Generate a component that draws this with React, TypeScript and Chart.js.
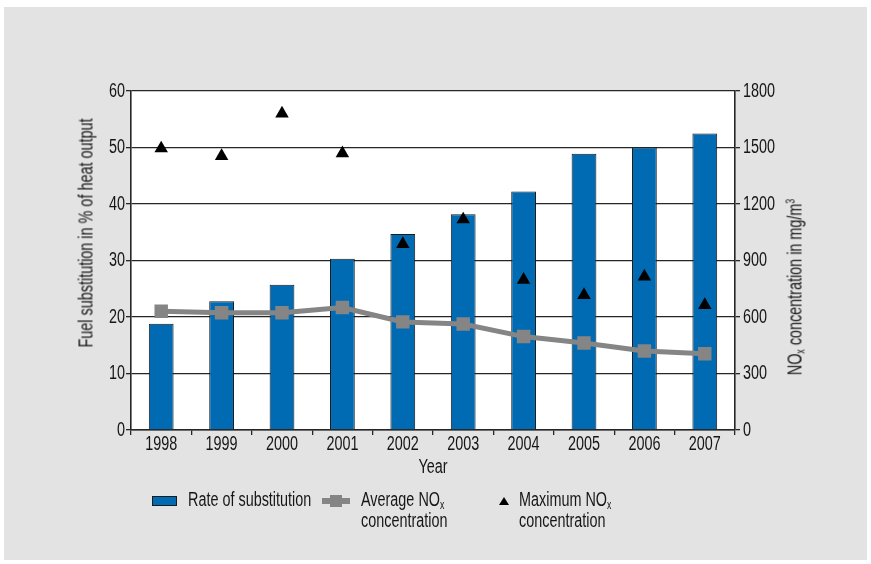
import React, { useEffect, useRef } from "react";
import { Chart, registerables } from "chart.js";
Chart.register(...registerables);

const years = ["1998", "1999", "2000", "2001", "2002", "2003", "2004", "2005", "2006", "2007"];
const substitution = [18.8, 22.8, 25.7, 30.3, 34.7, 38.2, 42.2, 48.9, 50.0, 52.5];
const avgNOx = [631, 623, 623, 650, 574, 563, 496, 462, 419, 405];
const maxNOx = [1495, 1454, 1680, 1469, 987, 1118, 797, 716, 815, 663];
const leftMax = 60;
const leftStep = 10;
const rightMax = 1800;
const rightStep = 300;

const FONT = "'Liberation Sans', Arial, sans-serif";
const FSIZE = 20;
const SQUEEZE = 0.72;
const TXT = "#161616";
const BLUE = "#006bb3";
const GREY = "#858585";
const LINE = "#262626";

const plotBg = {
  id: "plotBg",
  beforeDraw(chart: any) {
    const { ctx, chartArea } = chart;
    ctx.save();
    ctx.fillStyle = "#ffffff";
    ctx.fillRect(chartArea.left, chartArea.top, chartArea.right - chartArea.left, chartArea.bottom - chartArea.top);
    ctx.restore();
  },
};

// draws tick labels in a condensed style (horizontally squeezed)
const condensedTicks = {
  id: "condensedTicks",
  afterDraw(chart: any) {
    const { ctx, chartArea } = chart;
    ctx.save();
    ctx.font = `${FSIZE}px ${FONT}`;
    ctx.fillStyle = TXT;
    const put = (text: string, x: number, y: number, align: CanvasTextAlign) => {
      ctx.save();
      ctx.translate(x, y);
      ctx.scale(SQUEEZE, 1);
      ctx.textAlign = align;
      ctx.textBaseline = "middle";
      ctx.fillText(text, 0, 0);
      ctx.restore();
    };
    const xs = chart.scales.x;
    xs.ticks.forEach((t: any, i: number) => {
      put(String(xs.getLabelForValue(t.value)), xs.getPixelForTick(i), chartArea.bottom + 14, "center");
    });
    const ys = chart.scales.y;
    ys.ticks.forEach((t: any) => {
      put(String(t.value), chartArea.left - 6, ys.getPixelForValue(t.value), "right");
    });
    const y1 = chart.scales.y1;
    y1.ticks.forEach((t: any) => {
      put(String(t.value), chartArea.right + 8, y1.getPixelForValue(t.value), "left");
    });
    ctx.restore();
  },
};

export default function App() {
  const ref = useRef<HTMLCanvasElement | null>(null);

  useEffect(() => {
    if (!ref.current) return;
    const chart = new Chart(ref.current, {
      type: "bar",
      data: {
        labels: years,
        datasets: [
          {
            type: "bar",
            label: "Rate of substitution",
            data: substitution,
            yAxisID: "y",
            backgroundColor: BLUE,
            borderColor: "#1a1a1a",
            borderWidth: 1,
            categoryPercentage: 1,
            barPercentage: 0.41,
            order: 3,
          } as any,
          {
            type: "line",
            label: "Average NOx concentration",
            data: avgNOx,
            yAxisID: "y1",
            borderColor: GREY,
            borderWidth: 5,
            pointStyle: "rect",
            pointRadius: 9.5,
            pointBackgroundColor: GREY,
            pointBorderWidth: 0,
            tension: 0,
            order: 2,
          } as any,
          {
            type: "line",
            label: "Maximum NOx concentration",
            data: maxNOx,
            yAxisID: "y1",
            showLine: false,
            pointStyle: "triangle",
            pointRadius: 7.8,
            pointBackgroundColor: "#000",
            pointBorderColor: "#000",
            pointBorderWidth: 0,
            order: 1,
          } as any,
        ],
      },
      options: {
        responsive: false,
        animation: false,
        devicePixelRatio: 1,
        layout: { padding: { top: 91, left: 0, right: 0, bottom: 0 } },
        plugins: { legend: { display: false }, tooltip: { enabled: false } },
        scales: {
          x: {
            type: "category",
            offset: true,
            grid: { offset: true, drawOnChartArea: false, drawTicks: true, tickLength: 5, color: LINE, lineWidth: 1.3 },
            border: { display: true, color: LINE, width: 1.6 },
            ticks: { display: false },
            afterFit: (s: any) => { s.height = 134; },
          },
          y: {
            position: "left",
            min: 0,
            max: leftMax,
            ticks: { stepSize: leftStep, display: false },
            grid: { color: LINE, lineWidth: 1.3, tickLength: 5, drawTicks: true },
            border: { display: true, color: LINE, width: 1.6 },
            afterFit: (s: any) => { s.width = 131; },
          },
          y1: {
            position: "right",
            min: 0,
            max: rightMax,
            ticks: { stepSize: rightStep, display: false },
            grid: { drawOnChartArea: false, color: LINE, lineWidth: 1.3, tickLength: 5, drawTicks: true },
            border: { display: true, color: LINE, width: 1.6 },
            afterFit: (s: any) => { s.width = 136; },
          },
        },
      } as any,
      plugins: [plotBg, condensedTicks],
    });
    return () => chart.destroy();
  }, []);

  const txt: React.CSSProperties = {
    position: "absolute",
    fontFamily: FONT,
    fontSize: FSIZE,
    color: TXT,
    whiteSpace: "nowrap",
    lineHeight: "21px",
  };
  const leftTxt: React.CSSProperties = { ...txt, transform: `scaleX(${SQUEEZE})`, transformOrigin: "left top" };
  const sub: React.CSSProperties = { fontSize: "0.6em", verticalAlign: "-0.25em", lineHeight: 0 };
  const sup: React.CSSProperties = { fontSize: "0.6em", verticalAlign: "0.55em", lineHeight: 0 };

  return (
    <div style={{ position: "absolute", left: 0, top: 0, width: 871, height: 564, background: "#ffffff", overflow: "hidden" }}>
      <div style={{ position: "absolute", left: 4, top: 7, width: 863, height: 553, background: "#e2e3e2" }} />
      <canvas ref={ref} width={871} height={564} style={{ position: "absolute", left: 0, top: 0, width: 871, height: 564 }} />
      <div style={{ ...txt, left: 86, top: 233, transform: `translate(-50%, -50%) rotate(-90deg) scaleX(${SQUEEZE})` }}>
        Fuel substitution in % of heat output
      </div>
      <div style={{ ...txt, left: 795, top: 287, transform: `translate(-50%, -50%) rotate(-90deg) scaleX(${SQUEEZE})` }}>
        NO<span style={sub}>x</span> concentration in mg/m<span style={sup}>3</span>
      </div>
      <div style={{ ...txt, left: 433, top: 466, transform: `translate(-50%, -50%) scaleX(${SQUEEZE})` }}>Year</div>

      <div style={{ position: "absolute", left: 152, top: 496, width: 23, height: 8, background: BLUE, border: "1px solid #1a1a1a" }} />
      <div style={{ ...leftTxt, left: 188, top: 489 }}>Rate of substitution</div>

      <div style={{ position: "absolute", left: 322, top: 498, width: 28, height: 6, background: GREY }} />
      <div style={{ position: "absolute", left: 330, top: 495, width: 12, height: 12, background: GREY }} />
      <div style={{ ...leftTxt, left: 361, top: 489 }}>
        Average NO<span style={sub}>x</span>
        <br />
        concentration
      </div>

      <div style={{ position: "absolute", left: 499, top: 497, width: 0, height: 0, borderLeft: "5px solid transparent", borderRight: "5px solid transparent", borderBottom: "8px solid #000" }} />
      <div style={{ ...leftTxt, left: 519, top: 489 }}>
        Maximum NO<span style={sub}>x</span>
        <br />
        concentration
      </div>
    </div>
  );
}
